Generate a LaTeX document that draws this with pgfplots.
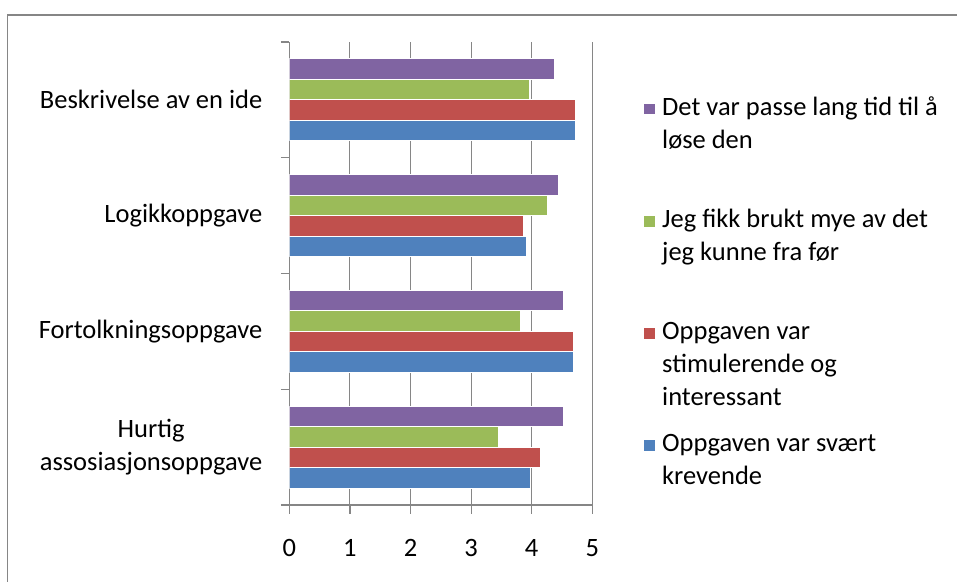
\documentclass[border=0pt]{standalone}
\usepackage{pgfplots}
\pgfplotsset{compat=1.18}
\usepackage{fontspec}
\setmainfont{Carlito}
\definecolor{cblue}{HTML}{4F81BD}
\definecolor{cred}{HTML}{C0504D}
\definecolor{cgreen}{HTML}{9BBB59}
\definecolor{cpurple}{HTML}{8064A2}
\definecolor{cgrid}{HTML}{868686}
\newcommand{\lfont}{\fontsize{26.5}{33}\selectfont}
\begin{document}
\lfont
\begin{tikzpicture}
\useasboundingbox (0pt,0pt) rectangle (957pt,581pt);
\draw[cgrid, line width=1.6pt] (7.5pt,-5pt) -- (7.5pt,566pt) -- (965pt,566pt);
\begin{axis}[
  at={(289.3pt,76pt)}, anchor=south west,
  scale only axis, width=303pt, height=463pt,
  xmin=0, xmax=5, ymin=-0.5, ymax=3.5,
  xbar=0pt, bar width=20.5pt,
  axis x line*=bottom, axis y line*=left,
  axis line style={cgrid, line width=1.2pt},
  xtick={0,1,2,3,4,5},
  minor xtick={0,1,2,3,4,5},
  ytick={0,1,2,3},
  minor ytick={-0.5,0.5,1.5,2.5,3.5},
  yticklabels={{Hurtig\\assosiasjonsoppgave},{Fortolkningsoppgave},{Logikkoppgave},{Beskrivelse av en ide}},
  major tick length=0pt, minor tick length=8.5pt,
  tick align=outside,
  tick style={cgrid, line width=1.2pt},
  xmajorgrids,
  major grid style={cgrid, line width=1pt},
  /pgf/number format/assume math mode=true,
  xticklabel style={font=\lfont, yshift=-25pt},
  yticklabel style={font=\lfont, align=center, xshift=-18pt},
  legend image code/.code={\fill[#1] (0pt,0pt) rectangle (12pt,12pt);},
  reverse legend,
  legend style={at={(1.1673,0.8965)}, anchor=north west, draw=none, fill=none,
    inner sep=0pt, outer sep=0pt, row sep=81pt, column sep=4pt,
    font=\lfont, cells={anchor=base west, inner sep=0pt}},
]
\addplot[fill=cblue, draw=white, line width=1.2pt] coordinates {(3.98,0) (4.69,1) (3.91,2) (4.72,3)};
\addplot[fill=cred, draw=white, line width=1.2pt] coordinates {(4.15,0) (4.69,1) (3.87,2) (4.72,3)};
\addplot[fill=cgreen, draw=white, line width=1.2pt] coordinates {(3.46,0) (3.81,1) (4.27,2) (3.97,3)};
\addplot[fill=cpurple, draw=white, line width=1.2pt] coordinates {(4.53,0) (4.53,1) (4.45,2) (4.37,3)};
\addlegendentry{\parbox[t]{300pt}{\strut Oppgaven var svært\\krevende}}
\addlegendentry{\parbox[t]{300pt}{\strut Oppgaven var\\stimulerende og\\interessant}}
\addlegendentry{\parbox[t]{300pt}{\strut Jeg fikk brukt mye av det\\jeg kunne fra før}}
\addlegendentry{\parbox[t]{300pt}{\strut Det var passe lang tid til å\\løse den}}
\end{axis}
\end{tikzpicture}
\end{document}
